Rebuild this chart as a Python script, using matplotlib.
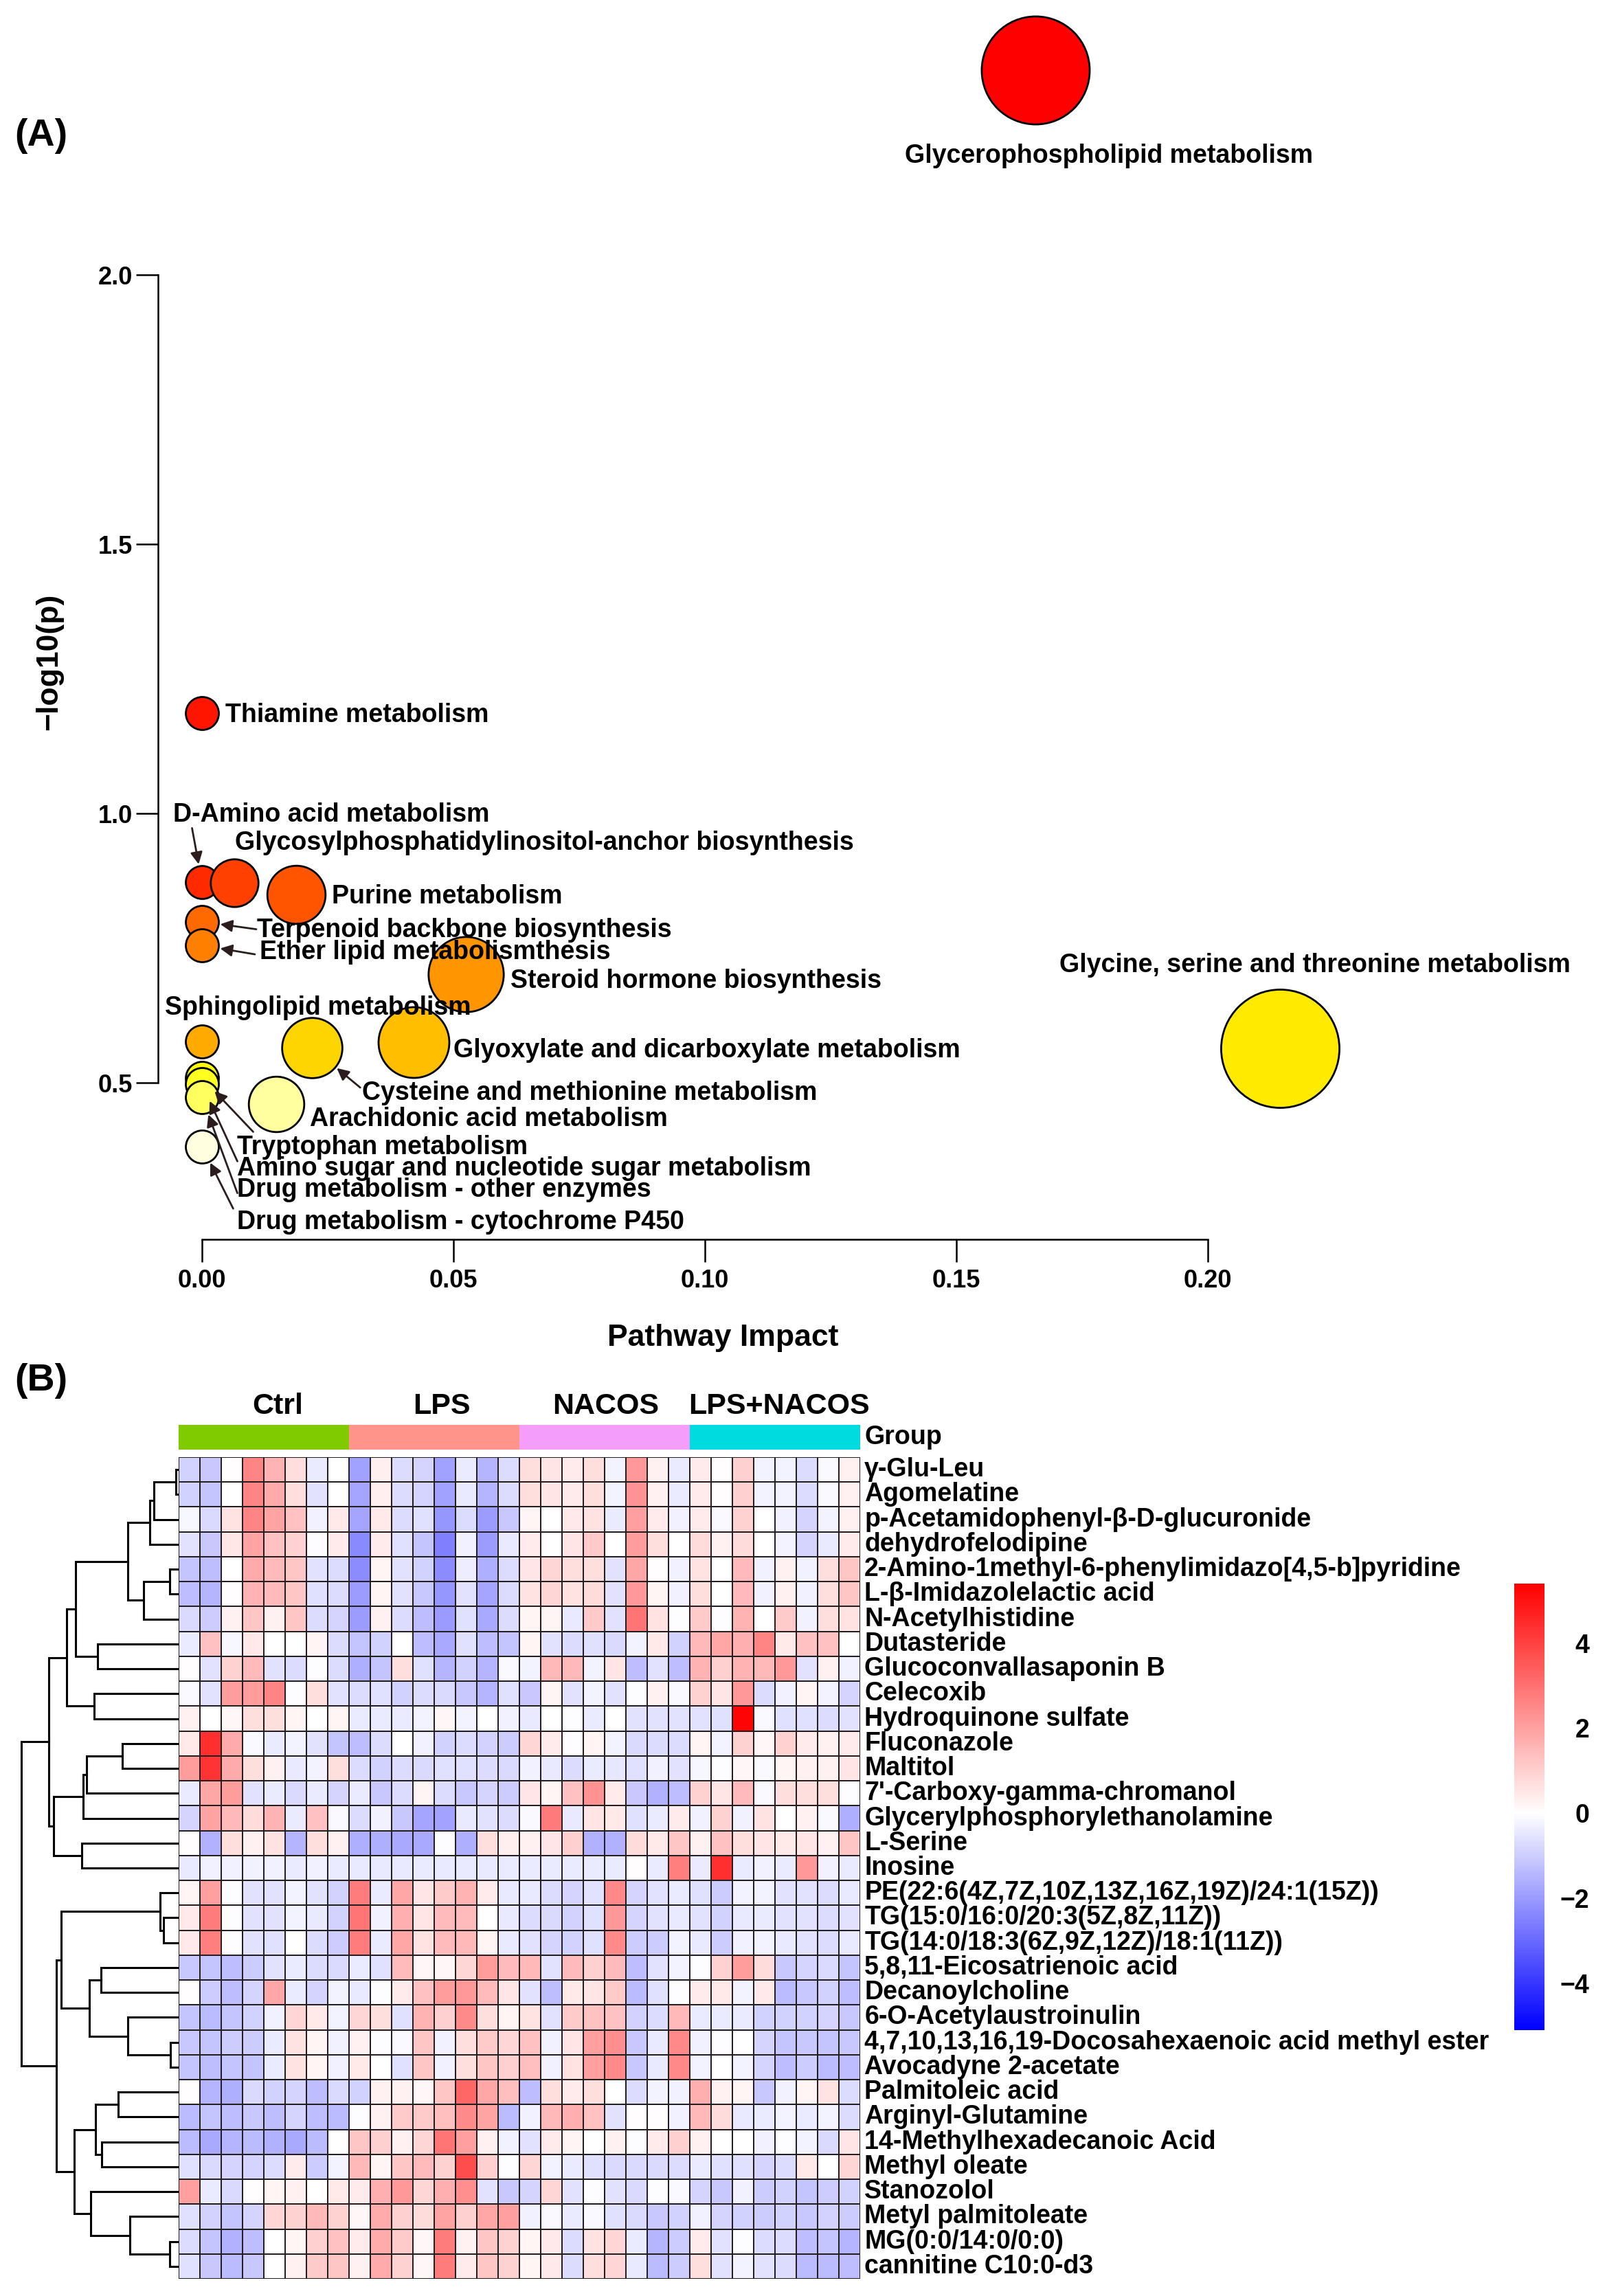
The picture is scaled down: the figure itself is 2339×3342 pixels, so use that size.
import numpy as np
import matplotlib
matplotlib.use("Agg")
import matplotlib.pyplot as plt
from matplotlib.colors import LinearSegmentedColormap, ListedColormap, Normalize, hsv_to_rgb
from matplotlib.cm import ScalarMappable

plt.rcParams['font.family'] = ['Liberation Sans', 'DejaVu Sans']
plt.rcParams['font.weight'] = 'bold'

# ---------------- (A) pathway data ----------------
pathways = ["Glycerophospholipid metabolism", "Thiamine metabolism", "D-Amino acid metabolism",
            "Glycosylphosphatidylinositol-anchor biosynthesis", "Purine metabolism",
            "Terpenoid backbone biosynthesis", "Ether lipid metabolismthesis",
            "Steroid hormone biosynthesis", "Sphingolipid metabolism",
            "Glyoxylate and dicarboxylate metabolism", "Cysteine and methionine metabolism",
            "Glycine, serine and threonine metabolism", "Tryptophan metabolism",
            "Amino sugar and nucleotide sugar metabolism", "Drug metabolism - other enzymes",
            "Arachidonic acid metabolism", "Drug metabolism - cytochrome P450"]
impact = [0.1657, 0.0, 0.0, 0.0064, 0.0187, 0.0, 0.0, 0.0524, 0.0, 0.0421, 0.0219,
          0.2144, 0.0, 0.0, 0.0, 0.0148, 0.0]
logp = [2.380, 1.186, 0.872, 0.871, 0.850, 0.799, 0.755, 0.702, 0.576, 0.575, 0.565,
        0.564, 0.509, 0.497, 0.473, 0.461, 0.382]

# ---------------- (B) heatmap data ----------------
metabolites = ["γ-Glu-Leu", "Agomelatine", "p-Acetamidophenyl-β-D-glucuronide", "dehydrofelodipine",
               "2-Amino-1methyl-6-phenylimidazo[4,5-b]pyridine", "L-β-Imidazolelactic acid",
               "N-Acetylhistidine", "Dutasteride", "Glucoconvallasaponin B", "Celecoxib",
               "Hydroquinone sulfate", "Fluconazole", "Maltitol", "7'-Carboxy-gamma-chromanol",
               "Glycerylphosphorylethanolamine", "L-Serine", "Inosine",
               "PE(22:6(4Z,7Z,10Z,13Z,16Z,19Z)/24:1(15Z))", "TG(15:0/16:0/20:3(5Z,8Z,11Z))",
               "TG(14:0/18:3(6Z,9Z,12Z)/18:1(11Z))", "5,8,11-Eicosatrienoic acid", "Decanoylcholine",
               "6-O-Acetylaustroinulin", "4,7,10,13,16,19-Docosahexaenoic acid methyl ester",
               "Avocadyne 2-acetate", "Palmitoleic acid", "Arginyl-Glutamine",
               "14-Methylhexadecanoic Acid", "Methyl oleate", "Stanozolol", "Metyl palmitoleate",
               "MG(0:0/14:0/0:0)", "cannitine C10:0-d3"]
groups = ["Ctrl", "LPS", "NACOS", "LPS+NACOS"]
group_colors = ["#7FCB00", "#FF948A", "#F59DFB", "#00DBE0"]

ctrl = [
    [-0.9, -1.1, 0.05, 2.6, 1.6, 0.7, -0.4, 0.0],
    [-0.9, -1.2, 0.02, 2.6, 1.75, 0.7, -0.55, 0.0],
    [-0.15, -0.75, 0.6, 2.6, 1.95, 1.3, -0.3, 0.45],
    [-0.55, -1.1, 0.5, 1.95, 1.3, 0.95, -0.05, 0.4],
    [-1.2, -1.3, 0.0, 1.75, 1.45, 1.2, -0.55, -0.7],
    [-1.3, -1.45, 0.05, 1.6, 1.45, 1.2, -0.6, -0.7],
    [-0.75, -1.0, 0.3, 1.2, 0.3, 1.2, -0.7, -0.85],
    [-0.4, 1.3, -0.15, 0.45, 0.0, 0.0, 0.2, -0.7],
    [0.05, -0.55, 0.95, 1.45, -0.55, -0.7, -0.05, -0.7],
    [-0.1, -0.55, 2.1, 2.1, 2.6, -0.05, 0.7, -0.55],
    [0.3, 0.0, 0.15, 0.7, 0.7, 0.2, 0.0, 0.2],
    [0.45, 4.4, 1.75, -0.1, -0.4, -0.25, -0.55, -1.2],
    [2.1, 4.3, 1.75, 0.7, 0.3, -0.45, -0.25, 0.7],
    [-0.4, 1.85, 2.1, -0.55, -0.4, -0.75, -0.4, -0.85],
    [-0.85, 1.95, 1.5, 0.75, 1.6, -0.4, 1.3, -0.1],
    [0.05, -1.55, 0.7, 0.3, 0.6, -1.45, 0.7, 0.3],
    [-0.45, -0.3, -0.3, -0.3, -0.3, -0.4, -0.3, -0.4],
    [0.2, 2.0, -0.05, -0.55, -0.55, -0.25, -0.55, -0.9],
    [0.45, 2.75, -0.05, -0.55, -0.55, -0.25, -0.45, -0.9],
    [0.45, 2.7, -0.05, -0.55, -0.6, 0.0, -0.7, -1.0],
    [-1.1, -1.2, -1.3, -1.0, -0.55, -0.4, -0.7, -0.75],
    [0.05, -1.0, -1.3, -0.85, 1.85, -0.4, -0.85, -0.25],
    [-1.2, -1.35, -1.2, -0.9, -0.3, 0.85, 0.45, -0.25],
    [-1.1, -1.2, -1.0, -1.0, -0.4, 0.6, 0.2, -0.3],
    [-1.2, -1.3, -1.2, -1.2, -0.4, 0.6, 0.2, -0.3],
    [0.05, -1.45, -1.6, -0.75, -0.9, -0.85, -1.3, -0.75],
    [-1.35, -1.2, -1.3, -1.1, -1.3, -0.85, -1.3, -1.35],
    [-1.35, -1.7, -1.45, -1.35, -1.55, -1.7, -1.35, 0.0],
    [-0.6, -0.75, -0.85, -0.85, -0.7, 0.4, -1.0, -0.25],
    [2.0, -0.4, -0.75, 0.05, 0.2, 0.3, 0.0, 0.45],
    [-0.6, -0.9, -1.2, -0.85, 0.85, 0.95, 1.5, 0.95],
    [-0.7, -1.2, -1.55, -1.3, 0.0, 0.2, 1.0, 1.3],
    [-0.6, -1.1, -1.35, -1.1, 0.0, 0.3, 1.1, 1.2],
]
lps = [
    [-1.9, 0.35, -0.7, -0.85, -1.9, -0.4, -1.45, -0.7],
    [-1.8, 0.35, -0.7, -0.85, -1.9, -0.45, -1.45, -0.7],
    [-1.8, 0.45, -0.7, -0.6, -2.1, -0.7, -1.95, -1.1],
    [-2.35, 0.4, -0.6, -1.2, -2.55, -0.3, -1.95, -0.45],
    [-2.3, 0.2, -0.55, -0.9, -2.3, -0.35, -1.6, -0.7],
    [-1.95, 0.2, -0.55, -1.1, -2.1, -0.55, -1.8, -0.7],
    [-1.95, 0.3, -0.7, -1.3, -2.0, -0.6, -1.7, -0.7],
    [-1.2, -0.9, 0.0, -1.3, -1.7, -0.6, -1.3, -1.2],
    [-1.6, -1.2, 0.7, -0.6, -1.45, -0.9, -1.45, -0.1],
    [-0.7, -0.6, -0.9, -0.7, -0.75, -1.1, -1.45, -0.6],
    [-0.4, -0.4, -0.4, -0.25, 0.15, -0.25, 0.0, -0.3],
    [-1.3, -0.7, 0.0, -0.3, -0.9, -0.7, -0.9, -1.0],
    [-0.7, -0.9, -0.7, -0.75, -0.6, -0.6, -0.7, -0.75],
    [-0.4, -1.1, -0.7, 0.2, -0.7, -1.1, -0.85, -1.0],
    [-0.7, -0.3, -1.1, -1.8, -1.85, -0.45, -0.55, -0.7],
    [-1.6, -1.6, -1.7, -1.7, -0.05, -1.6, 0.7, 0.35],
    [-0.45, -0.45, -0.45, -0.4, -0.45, -0.45, -0.45, -0.4],
    [2.75, -0.4, 1.85, 0.55, 1.1, 1.6, 0.4, -0.45],
    [2.9, -0.3, 1.7, 0.55, 1.45, 1.45, 0.0, -0.45],
    [2.75, -0.4, 1.85, 0.6, 1.45, 1.5, 0.2, -0.45],
    [-0.4, -0.6, 1.45, 0.15, 0.15, 0.85, 2.1, 1.45],
    [-0.45, -0.05, 0.4, 1.3, 2.1, 2.2, 1.45, 0.55],
    [0.85, 0.7, -0.6, 1.6, 1.0, 2.45, 0.7, 0.2],
    [0.3, -0.05, -0.1, 1.2, -0.3, 0.7, 1.1, 0.85],
    [0.45, 0.0, -0.6, 1.2, -0.3, 0.7, 1.2, 1.0],
    [-0.9, 0.3, 0.3, 0.15, 1.2, 3.2, 1.85, 1.35],
    [-0.05, 0.3, 1.1, 1.1, 1.35, 2.45, 1.95, -1.35],
    [1.2, 1.0, 0.3, 0.85, 2.9, 2.0, 0.3, -0.3],
    [1.5, 0.2, 1.2, 1.45, 0.95, 3.8, 1.0, -0.05],
    [0.4, 1.7, 2.2, 0.85, 1.7, 2.4, -0.55, -1.1],
    [0.15, 1.75, 1.0, 0.75, 1.95, 1.0, 1.85, 2.0],
    [0.4, 1.75, 1.1, 0.15, 2.75, 0.3, 1.2, 0.95],
    [0.3, 1.75, 0.95, 0.15, 2.75, 0.4, 1.2, 0.95],
]
nacos = [
    [0.7, 0.55, 0.4, 0.7, -0.25, 2.2, 0.3, -0.4],
    [0.7, 0.55, 0.4, 0.7, -0.25, 2.3, 0.3, -0.4],
    [0.2, 0.0, 0.45, 0.6, -0.4, 2.0, 0.4, -0.3],
    [0.4, 0.0, 0.55, 1.1, 0.0, 2.1, 0.7, 0.0],
    [0.55, 0.85, 0.7, 0.7, -0.55, 1.85, 0.05, -0.3],
    [0.6, 0.85, 0.6, 0.75, -0.55, 2.2, 0.2, -0.3],
    [0.2, 0.2, -0.45, 1.1, -0.55, 2.9, 0.6, -0.05],
    [0.2, -0.55, -0.7, -0.6, -0.75, -0.25, 0.45, -0.9],
    [-0.25, 1.5, 1.5, -0.25, 0.55, -1.3, -0.55, -1.3],
    [-1.1, 0.2, -0.55, -0.25, -0.55, -0.05, 0.3, -0.1],
    [-0.45, 0.0, -0.05, -0.4, 0.0, -0.55, -0.55, -0.55],
    [0.85, 0.4, -0.05, 0.2, -0.25, -0.75, -0.7, -0.7],
    [-0.3, -0.45, -0.7, -0.4, -0.5, -0.6, -0.3, -0.55],
    [0.55, 0.2, 1.3, 2.3, 0.4, -1.1, -1.55, -1.3],
    [-0.1, 2.8, -0.45, 0.55, 0.45, -0.6, -0.4, 0.4],
    [0.3, 0.55, 1.0, -1.55, -1.55, 0.75, 0.45, 1.2],
    [-0.4, -0.4, -0.4, -0.4, -0.4, 0.05, -0.4, 2.7],
    [-0.45, -0.7, -0.85, -0.55, 2.5, -0.85, -0.55, -0.4],
    [-0.7, -0.75, -0.9, -0.6, 2.2, -0.85, -0.55, -0.45],
    [-0.55, -0.85, -0.9, -0.6, 2.45, -1.0, -1.0, -0.25],
    [1.5, -0.55, 1.45, 1.0, 1.45, -1.3, -0.55, -0.25],
    [-0.55, -1.3, 0.45, 0.55, 1.1, -1.35, -0.6, -0.05],
    [0.6, -0.55, 1.1, 1.3, 1.3, -0.9, -0.7, 1.5],
    [1.3, -0.3, 0.55, 2.0, 2.4, -1.1, -0.45, 2.5],
    [1.35, -0.3, 0.6, 2.0, 2.45, -1.1, -0.45, 2.5],
    [-1.3, 0.7, 0.4, 0.7, 0.0, -0.7, -0.25, -0.3],
    [-0.3, 1.5, 1.7, 1.3, -0.55, 0.05, 0.05, -0.3],
    [-0.55, 0.4, 0.2, 0.0, 0.3, -0.05, 0.4, 1.0],
    [0.85, -0.25, -0.4, -0.6, -0.75, -0.75, -0.75, -0.7],
    [-0.85, 0.85, -0.55, -0.05, -0.55, -0.75, -0.05, -0.1],
    [-0.3, -0.1, -0.4, -0.1, -0.6, -0.75, -1.1, -0.9],
    [0.2, 0.45, -0.7, 0.6, 0.85, -0.4, -1.45, -1.0],
    [0.2, 0.45, -0.7, 0.7, 0.85, -0.45, -1.35, -1.0],
]
lps_nacos = [
    [0.4, 0.05, 1.0, -0.25, -0.25, -0.7, -0.1, 0.3],
    [0.4, 0.05, 1.0, -0.25, -0.25, -0.7, -0.1, 0.3],
    [0.4, -0.1, 0.95, 0.0, -0.3, -0.85, -0.25, 0.3],
    [0.75, 0.3, 0.75, 0.0, -0.25, -0.85, -0.45, 0.4],
    [0.6, 0.0, 1.45, -0.3, 0.3, -0.3, 0.7, 1.2],
    [0.7, 0.0, 1.45, -0.3, 0.3, -0.3, 0.7, 1.2],
    [1.1, -0.05, 1.6, 0.0, 1.1, -0.3, 0.7, 0.6],
    [1.5, 1.85, 1.7, 2.6, 0.45, 1.3, 1.3, 0.0],
    [1.6, 1.0, 1.6, 1.5, 2.2, -0.55, 0.3, -0.3],
    [0.95, 0.55, 2.2, -0.7, -0.3, 0.2, -0.25, -0.85],
    [-0.55, -0.6, 5.3, -0.1, -0.6, -0.6, -0.7, -0.55],
    [0.2, -0.25, 0.95, 0.15, 0.95, 0.4, 0.3, 0.4],
    [-0.15, -0.05, 0.15, -0.1, 0.2, 0.3, 0.3, 0.55],
    [0.95, 0.55, 1.45, -0.1, 0.7, 0.7, 0.7, -0.05],
    [-0.3, 0.95, -0.3, 0.6, 0.0, 0.3, -0.1, -1.6],
    [0.3, 1.3, 0.7, 0.55, 0.45, 0.55, 0.3, 1.2],
    [-0.4, 4.4, -0.4, -0.3, -0.4, 2.2, -0.3, -0.4],
    [-0.6, -1.0, -0.25, -0.25, -0.55, -0.55, -0.7, -0.45],
    [-0.55, -0.9, -0.45, -0.4, -0.55, -0.55, -0.7, -0.55],
    [-0.45, -1.0, -0.3, -0.25, -0.45, -0.55, -0.7, -0.45],
    [-0.05, 0.95, 2.1, 0.75, -1.1, -0.85, -0.75, -1.2],
    [0.4, 0.45, -0.25, 0.45, -1.35, -1.1, -0.9, -1.3],
    [-0.4, -0.4, -0.4, -0.9, -0.9, -0.9, -0.85, -1.1],
    [-0.3, -0.05, 0.0, -0.85, -1.2, -1.1, -1.2, -1.1],
    [-0.25, 0.0, -0.25, -0.85, -1.3, -1.0, -1.35, -1.3],
    [1.7, 0.3, 0.2, -1.1, -0.3, 0.2, 0.6, -0.7],
    [1.5, 0.75, -0.45, -0.4, -0.25, -0.4, -0.25, -0.7],
    [0.3, 0.0, 0.0, -0.3, -0.05, -0.25, -0.75, 0.55],
    [-0.4, -0.6, -0.6, -0.85, -0.7, 0.45, 0.0, 0.85],
    [-0.85, -1.1, -0.3, -1.0, -0.9, -1.2, -1.0, -0.9],
    [-0.3, -0.85, -0.9, -1.0, -0.9, -1.1, -0.9, -1.0],
    [0.4, -0.55, -0.05, -0.7, -0.7, -1.3, -1.2, -1.45],
    [0.7, -0.55, -0.25, -0.55, -0.7, -1.35, -1.35, -1.3],
]

# row dendrogram: (child a, child b, height); ids >= 33 are earlier merges
row_merges = [
    (0, 1, 13), (33, 2, 108), (34, 3, 126), (4, 5, 38), (36, 6, 153), (35, 37, 221),
    (7, 8, 354), (38, 39, 450), (9, 10, 368), (40, 41, 488), (11, 12, 246), (43, 13, 402),
    (44, 14, 416), (15, 16, 422), (45, 46, 546), (42, 47, 568), (18, 19, 65), (17, 49, 80),
    (20, 21, 340), (23, 24, 36), (22, 52, 223), (51, 53, 390), (50, 54, 512), (25, 26, 263),
    (27, 28, 336), (56, 57, 363), (31, 32, 40), (30, 59, 212), (29, 60, 383), (58, 61, 455),
    (55, 62, 534), (48, 63, 688),
]

W, H, DPI = 2339, 3342, 200
PT = 72 / DPI


def box(x0, y0, x1, y1):
    return [x0 / W, 1 - y1 / H, (x1 - x0) / W, (y1 - y0) / H]


def heat_colors(n):
    # same as R's heat.colors(n)
    j = n // 4
    i = n - j
    cols = [hsv_to_rgb((h, 1, 1)) for h in np.linspace(0, 1 / 6, i)]
    cols += [hsv_to_rgb((1 / 6, s, 1)) for s in np.linspace(1 - 1 / (2 * j), 1 / (2 * j), j)]
    return cols


fig = plt.figure(figsize=(W / DPI, H / DPI), dpi=DPI)

# ================= (A) bubble plot =================
ax_bottom = 1804
ax = fig.add_axes(box(230, 0, 2330, ax_bottom))
ax.patch.set_alpha(0)
ax.set_xlim((230 - 294) / 7320, (2330 - 294) / 7320)
ax.set_ylim(1 - (ax_bottom - 1184) / 784, 1 + 1184 / 784)

imp = np.array(impact)
lp = np.array(logp)
order = np.argsort(-lp, kind='stable')
heat = heat_colors(len(lp))
colors = [None] * len(lp)
for rank, k in enumerate(order):
    colors[k] = heat[rank]
radius = 24 + 134 * np.sqrt(imp)  # bubble radius in pixels

for k in order:
    ax.scatter(imp[k], lp[k], s=(2 * radius[k] * PT) ** 2, color=colors[k],
               edgecolors='black', linewidths=1.0, zorder=2, clip_on=False)

# label placement (pixel offsets from bubble centre) and optional arrow start
label_layout = [
    (107, 125, 'center', None), (34, 3, 'left', None), (-42, -98, 'left', (-14.5, -79)),
    (1, -58, 'left', None), (52, 3, 'left', None), (80, 12, 'left', (79, 11)),
    (84, 10, 'left', (77, 13)), (65, 10, 'left', None), (-54, -49, 'left', None),
    (58, 12, 'left', None), (73, 66, 'left', (70, 58)), (51, -121, 'center', None),
    (51, 101, 'left', (74.5, 78.5)), (51, 123, 'left', (51.5, 112)),
    (51, 135, 'left', (51.5, 139.5)), (49, 22, 'left', None), (51, 110, 'left', (45.4, 90.7)),
]
for k, (dx, dy, ha, arr) in enumerate(label_layout):
    ax.annotate(pathways[k], xy=(imp[k], lp[k]), xytext=(dx * PT, -dy * PT),
                textcoords='offset points', ha=ha, va='center', fontsize=13.5,
                fontweight='bold', zorder=4, annotation_clip=False)
    if arr is not None:
        ax.annotate('', xy=(imp[k], lp[k]), xytext=(arr[0] * PT, -arr[1] * PT),
                    textcoords='offset points', annotation_clip=False, zorder=3,
                    arrowprops=dict(arrowstyle='-|>', color='#2b1d1d', lw=1.0,
                                    shrinkA=0, shrinkB=radius[k] * PT + 1,
                                    mutation_scale=13))

for s in ['top', 'right']:
    ax.spines[s].set_visible(False)
ax.spines['left'].set_bounds(0.5, 2.0)
ax.spines['bottom'].set_bounds(0.0, 0.2)
ax.spines['left'].set_linewidth(0.9)
ax.spines['bottom'].set_linewidth(0.9)
ax.set_xticks([0, 0.05, 0.10, 0.15, 0.20])
ax.set_xticklabels(['0.00', '0.05', '0.10', '0.15', '0.20'])
ax.set_yticks([0.5, 1.0, 1.5, 2.0])
ax.set_yticklabels(['0.5', '1.0', '1.5', '2.0'])
ax.tick_params(axis='x', length=33 * PT, width=0.9, pad=10 * PT, labelsize=13)
ax.tick_params(axis='y', length=32 * PT, width=0.9, pad=5 * PT, labelsize=13)
for t in ax.get_xticklabels() + ax.get_yticklabels():
    t.set_fontweight('bold')

fig.text(1052 / W, 1 - 1948 / H, 'Pathway Impact', ha='center', va='center', fontsize=16)
fig.text(72 / W, 1 - 963 / H, '\u2212log10(p)', ha='center', va='center', fontsize=16,
         rotation=90)
fig.text(21 / W, 1 - 198 / H, '(A)', ha='left', va='center', fontsize=20)
fig.text(21 / W, 1 - 2010 / H, '(B)', ha='left', va='center', fontsize=20)

# ================= (B) heatmap =================
data = np.hstack([np.array(ctrl), np.array(lps), np.array(nacos), np.array(lps_nacos)])
nrow, ncol = data.shape
vmin, vmax = -5.1, 5.4
cmap = LinearSegmentedColormap.from_list(
    'bwr_ph', [(0, 'blue'), (-vmin / (vmax - vmin), 'white'), (1, 'red')])
norm = Normalize(vmin, vmax)

top, bottom, left, right = 2121, 3317, 260, 1252
axh = fig.add_axes(box(left, top, right, bottom))
axh.pcolormesh(data, cmap=cmap, norm=norm, edgecolors='#231f20', linewidth=0.7)
axh.set_xlim(0, ncol)
axh.set_ylim(nrow, 0)
axh.axis('off')
for i, name in enumerate(metabolites):
    axh.text(ncol + 0.2, i + 0.5, name, ha='left', va='center', fontsize=13.5,
             fontweight='bold', clip_on=False)

# annotation bar
axa = fig.add_axes(box(left, 2074, right, 2110))
group_idx = np.repeat(np.arange(len(groups)), ncol // len(groups))
axa.imshow(group_idx[None, :], cmap=ListedColormap(group_colors), aspect='auto',
           extent=(0, ncol, 1, 0), interpolation='nearest')
axa.axis('off')
cell_w = (right - left) / ncol
group_label_shift = [20, 11, 2, 6]  # pixels, as placed in the original
for g, name in enumerate(groups):
    cx = left + (g * 8 + 4) * cell_w + group_label_shift[g]
    fig.text(cx / W, 1 - 2047 / H, name, ha='center', va='center', fontsize=15.5)
fig.text(1258 / W, 1 - 2092 / H, 'Group', ha='left', va='center', fontsize=13.5)

# row dendrogram
axd = fig.add_axes(box(0, top, left, bottom))
axd.set_xlim(780, 0)
axd.set_ylim(nrow, 0)
axd.axis('off')
node_pos = {i: (i + 0.5, 0.0) for i in range(nrow)}
for m, (a, b, h) in enumerate(row_merges):
    ya, ha_ = node_pos[a]
    yb, hb = node_pos[b]
    axd.plot([ha_, h, h, hb], [ya, ya, yb, yb], color='black', lw=1.1,
             solid_joinstyle='miter')
    node_pos[nrow + m] = ((ya + yb) / 2, h)

# colour bar
axc = fig.add_axes(box(2204, 2305, 2248, 2955))
cb = fig.colorbar(ScalarMappable(norm=norm, cmap=cmap), cax=axc)
cb.outline.set_visible(False)
cb.set_ticks([-4, -2, 0, 2, 4])
axc.tick_params(length=0, pad=65 * PT, labelsize=13.5)
for t in axc.get_yticklabels():
    t.set_ha('right')
    t.set_fontweight('bold')

fig.savefig('out.png', dpi=DPI)
